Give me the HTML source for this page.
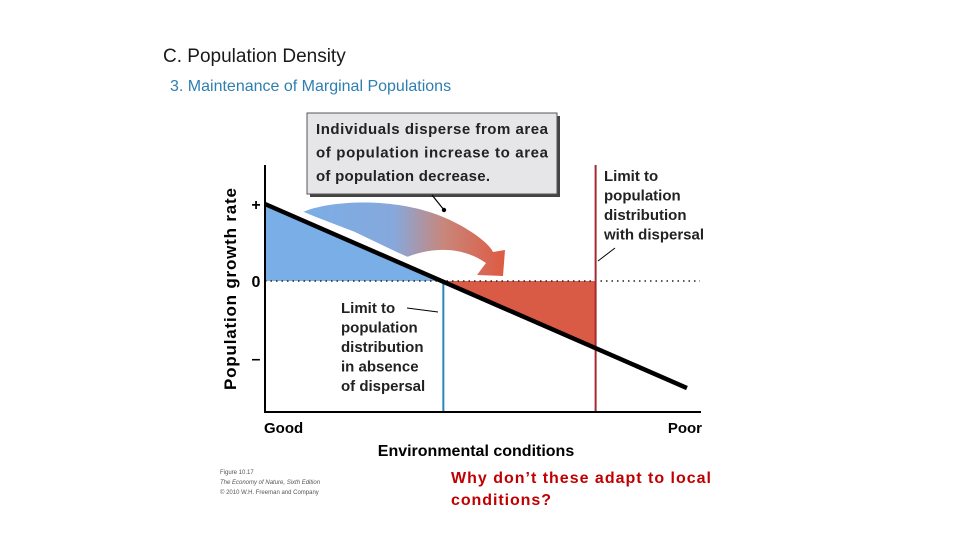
<!DOCTYPE html>
<html><head><meta charset="utf-8"><style>
body{margin:0;width:960px;height:540px;background:#fff;overflow:hidden;font-family:"Liberation Sans",sans-serif}
svg{position:absolute;left:0;top:0}
</style></head><body>
<svg width="960" height="540">
<defs>
<linearGradient id="ag" x1="0" x2="1" y1="0" y2="0">
<stop offset="0" stop-color="#7aaee6"/><stop offset="0.45" stop-color="#86a8dc"/><stop offset="0.7" stop-color="#c9867a"/><stop offset="1" stop-color="#de5a42"/>
</linearGradient>
</defs>
<text x="163" y="62" font-size="19" fill="#1a1a1a">C. Population Density</text>
<text x="170" y="91" font-size="16" fill="#2e7fb0">3. Maintenance of Marginal Populations</text>
<g id="plot"></g>
<text x="451" y="483" font-size="16" font-weight="bold" fill="#c00000" textLength="260">Why don’t these adapt to local</text>
<text x="451" y="505" font-size="16" font-weight="bold" fill="#c00000" textLength="100">conditions?</text>
<g font-size="6" fill="#555">
<text x="220" y="474">Figure 10.17</text>
<text x="220" y="484" font-style="italic">The Economy of Nature, Sixth Edition</text>
<text x="220" y="494">© 2010 W.H. Freeman and Company</text>
</g>
</svg>
<script>
const envX = [0, 9.7];
const growth = [1.0, -1.39];
const limits = [4.1, 7.6];
const yTicks = ["+", "0", "–"];
const yTickVals = [1, 0, -1];
const ns="http://www.w3.org/2000/svg";
const X=v=>265+v*43.5, Y=v=>281-v*77;
const g=document.getElementById('plot');
function mk(t,a,p){const e=document.createElementNS(ns,t);for(const k in a)e.setAttribute(k,a[k]);(p||g).appendChild(e);return e;}
const gy=x=>growth[0]+(growth[1]-growth[0])*(x-envX[0])/(envX[1]-envX[0]);
const x0=envX[0]+(0-growth[0])*(envX[1]-envX[0])/(growth[1]-growth[0]);
let e;
e=mk('polygon',{points:`${X(envX[0])},${Y(growth[0])} ${X(x0)},${Y(0)} ${X(envX[0])},${Y(0)}`,fill:'#7aaee6'});

e=mk('polygon',{points:`${X(x0)},${Y(0)} ${X(limits[1])},${Y(0)} ${X(limits[1])},${Y(gy(limits[1]))}`,fill:'#d95b45'});

e=mk('path',{d:'M303,212 C330,200 400,196 450,220 C475,232 490,245 493,252 L505,250 L503,276 L477,275 L486,263 C460,245 430,248 407,257 L355,232 Z',fill:'url(#ag)'});

e=mk('line',{x1:285,y1:207,x2:412,y2:262,stroke:'#fff','stroke-width':6});

e=mk('line',{x1:X(envX[0]),y1:Y(0),x2:700,y2:Y(0),stroke:'#222','stroke-width':1.5,'stroke-dasharray':'1.5 4'});

e=mk('line',{x1:X(limits[0]),y1:Y(0),x2:X(limits[0]),y2:412,stroke:'#2a86bf','stroke-width':2});

e=mk('line',{x1:X(limits[1]),y1:165,x2:X(limits[1]),y2:412,stroke:'#a32a30','stroke-width':2});

e=mk('line',{x1:X(envX[0]),y1:Y(growth[0]),x2:X(envX[1]),y2:Y(growth[1]),stroke:'#000','stroke-width':4.5});

e=mk('path',{d:'M265,165 L265,412 L701,412',fill:'none',stroke:'#000','stroke-width':2});

yTicks.forEach((t,i)=>{e=mk('text',{x:256,y:Y(yTickVals[i])+6,'font-size':16,'font-weight':'bold','text-anchor':'middle'});e.textContent=t;
});
e=mk('text',{x:0,y:0,transform:'translate(236,289) rotate(-90)','font-size':17,'font-weight':'bold','text-anchor':'middle',textLength:202});e.textContent='Population growth rate';

e=mk('text',{x:476,y:456,'font-size':16,'font-weight':'bold','text-anchor':'middle'});e.textContent='Environmental conditions';

e=mk('text',{x:264,y:433,'font-size':15,'font-weight':'bold'});e.textContent='Good';

e=mk('text',{x:702,y:433,'font-size':15,'font-weight':'bold','text-anchor':'end'});e.textContent='Poor';

e=mk('rect',{x:310,y:116,width:250,height:81,fill:'#444'});

e=mk('rect',{x:307,y:113,width:250,height:81,fill:'#e6e6e8',stroke:'#555','stroke-width':1});

['Individuals disperse from area','of population increase to area','of population decrease.'].forEach((t,i)=>{e=mk('text',{x:316,y:134+i*23.5,'font-size':15,'font-weight':'bold',fill:'#222',textLength:i<2?232:174});e.textContent=t;
});
e=mk('path',{d:'M432,195 L444,210',stroke:'#000','stroke-width':1.2});

e=mk('circle',{cx:444,cy:210,r:2.2,fill:'#000'});

['Limit to','population','distribution','with dispersal'].forEach((t,i)=>{e=mk('text',{x:604,y:181+i*19.5,'font-size':15,'font-weight':'bold',fill:'#222'});e.textContent=t;
});
e=mk('line',{x1:598,y1:261,x2:615,y2:248,stroke:'#000','stroke-width':1});

['Limit to','population','distribution','in absence','of dispersal'].forEach((t,i)=>{e=mk('text',{x:341,y:313+i*19.5,'font-size':15,'font-weight':'bold',fill:'#222'});e.textContent=t;
});
e=mk('line',{x1:407,y1:308,x2:438,y2:312,stroke:'#000','stroke-width':1});

</script>
</body></html>
